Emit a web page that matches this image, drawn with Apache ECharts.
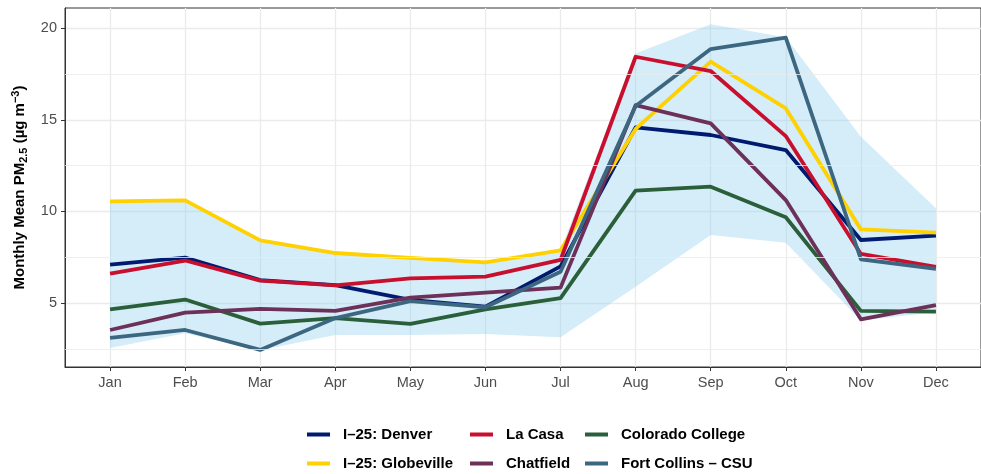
<!DOCTYPE html>
<html>
<head>
<meta charset="utf-8">
<script src="https://cdn.jsdelivr.net/npm/echarts@6/dist/echarts.min.js"></script>
<style>html,body{margin:0;padding:0;background:#fff}#c{width:981px;height:474px}</style>
</head>
<body>
<div id="c"></div>
<script>
const months = ['Jan','Feb','Mar','Apr','May','Jun','Jul','Aug','Sep','Oct','Nov','Dec'];
const yTicks = [5, 10, 15, 20];
const yMinor = [2.5, 7.5, 12.5, 17.5];

const denver     = [7.1, 7.48, 6.25, 5.98, 5.17, 4.8, 7.0, 14.59, 14.17, 13.35, 8.44, 8.68];
const globeville = [10.55, 10.6, 8.42, 7.73, 7.47, 7.22, 7.88, 14.5, 18.17, 15.62, 9.02, 8.84];
const laCasa     = [6.6, 7.32, 6.22, 5.96, 6.35, 6.44, 7.35, 18.44, 17.66, 14.11, 7.68, 6.98];
const coloradoCollege = [4.65, 5.19, 3.88, 4.18, 3.86, 4.66, 5.27, 11.13, 11.35, 9.68, 4.57, 4.53];
const chatfield  = [3.53, 4.48, 4.68, 4.57, 5.29, 5.57, 5.84, 15.8, 14.8, 10.62, 4.11, 4.89];
const fortCollins = [3.1, 3.53, 2.44, 4.18, 5.11, 4.77, 6.71, 15.75, 18.86, 19.48, 7.39, 6.87];
const bandUpper  = [10.55, 10.6, 8.42, 7.73, 7.47, 7.22, 7.88, 18.62, 20.22, 19.5, 14.07, 10.17];
const bandLower  = [2.55, 3.35, 2.42, 3.25, 3.26, 3.31, 3.13, 5.89, 8.71, 8.29, 4.05, 4.5];

const stations = [
  {name: 'I\u201325: Denver', data: denver, color: '#001A70'},
  {name: 'I\u201325: Globeville', data: globeville, color: '#FFD100'},
  {name: 'Colorado College', data: coloradoCollege, color: '#2A5F3A'},
  {name: 'Chatfield', data: chatfield, color: '#6D3058'},
  {name: 'La Casa', data: laCasa, color: '#C8102E'},
  {name: 'Fort Collins \u2013 CSU', data: fortCollins, color: '#3D6680'}
];
const legendItems = [
  {name: 'I\u201325: Denver', left: 307, top: 427},
  {name: 'I\u201325: Globeville', left: 307, top: 456},
  {name: 'La Casa', left: 470, top: 427},
  {name: 'Chatfield', left: 470, top: 456},
  {name: 'Colorado College', left: 585, top: 427},
  {name: 'Fort Collins \u2013 CSU', left: 585, top: 456}
];

const pairs = arr => arr.map((v, i) => [i, v]);

const series = [];
series.push({
  type: 'line', name: '_minor', data: [], silent: true, z: 0,
  markLine: {
    silent: true, symbol: 'none', label: {show: false},
    lineStyle: {color: '#EBEBEB', width: 0.8, type: 'solid'},
    data: yMinor.map(v => ({yAxis: v}))
  }
});
series.push({
  type: 'custom', name: '_band', silent: true, z: 1,
  data: [[0, bandLower[0]]],
  renderItem: function (params, api) {
    const pts = [];
    bandUpper.forEach((v, i) => pts.push(api.coord([i, v])));
    for (let i = bandLower.length - 1; i >= 0; i--) pts.push(api.coord([i, bandLower[i]]));
    return {type: 'polygon', shape: {points: pts}, style: {fill: 'rgba(135,206,235,0.36)', stroke: null}};
  }
});
stations.forEach(s => {
  series.push({
    type: 'line', name: s.name, data: pairs(s.data), symbol: 'none',
    lineStyle: {color: s.color, width: 3.8, join: 'round', cap: 'butt'}, itemStyle: {color: s.color},
    z: 3
  });
});

const legends = legendItems.map(l => ({
  data: [l.name], left: l.left, top: l.top, padding: 0,
  icon: 'rect', itemWidth: 23, itemHeight: 4,
  textStyle: {fontFamily: 'Liberation Sans', fontWeight: 'bold', fontSize: 15, color: '#000', padding: [0, 0, 0, 8]},
  selectedMode: false
}));

const chart = echarts.init(document.getElementById('c'), null, {renderer: 'canvas'});
chart.setOption({
  animation: false,
  backgroundColor: '#fff',
  textStyle: {fontFamily: 'Liberation Sans'},
  grid: {left: 65, top: 8, width: 923, height: 359, show: true, borderColor: '#333', borderWidth: 1, backgroundColor: 'transparent'},
  legend: legends,
  xAxis: {
    type: 'value', min: -0.6, max: 11.6,
    axisLine: {show: true, onZero: false, lineStyle: {color: '#333', width: 1}},
    axisTick: {show: true, length: 4, lineStyle: {color: '#333'}, customValues: months.map((m, i) => i)},
    axisLabel: {customValues: months.map((m, i) => i), formatter: v => months[Math.round(v)], color: '#4D4D4D', fontSize: 14.5, margin: 8, fontFamily: 'Liberation Sans'},
    splitLine: {show: true, lineStyle: {color: '#EBEBEB', width: 1.3}}
  },
  yAxis: {
    type: 'value', min: 1.51, max: 21.1,
    name: '{t|Monthly Mean PM}{s|2.5}{t| (\u00B5g m}{p|\u22123}{t|)}',
    nameLocation: 'middle', nameRotate: 90, nameGap: 36,
    nameTextStyle: {
      rich: {
        t: {fontFamily: 'Liberation Sans', fontWeight: 'bold', fontSize: 15, color: '#000'},
        s: {fontFamily: 'Liberation Sans', fontWeight: 'bold', fontSize: 11, color: '#000', verticalAlign: 'bottom', padding: [8, 0, 0, 0]},
        p: {fontFamily: 'Liberation Sans', fontWeight: 'bold', fontSize: 11, color: '#000', verticalAlign: 'top', padding: [0, 0, 8, 0]}
      }
    },
    axisLine: {show: true, onZero: false, lineStyle: {color: '#333', width: 1}},
    axisTick: {show: true, length: 4, lineStyle: {color: '#333'}, customValues: yTicks},
    axisLabel: {customValues: yTicks, color: '#4D4D4D', fontSize: 14.5, margin: 8, fontFamily: 'Liberation Sans'},
    splitLine: {show: true, lineStyle: {color: '#EBEBEB', width: 1.3}}
  },
  series: series
});
</script>
</body>
</html>
